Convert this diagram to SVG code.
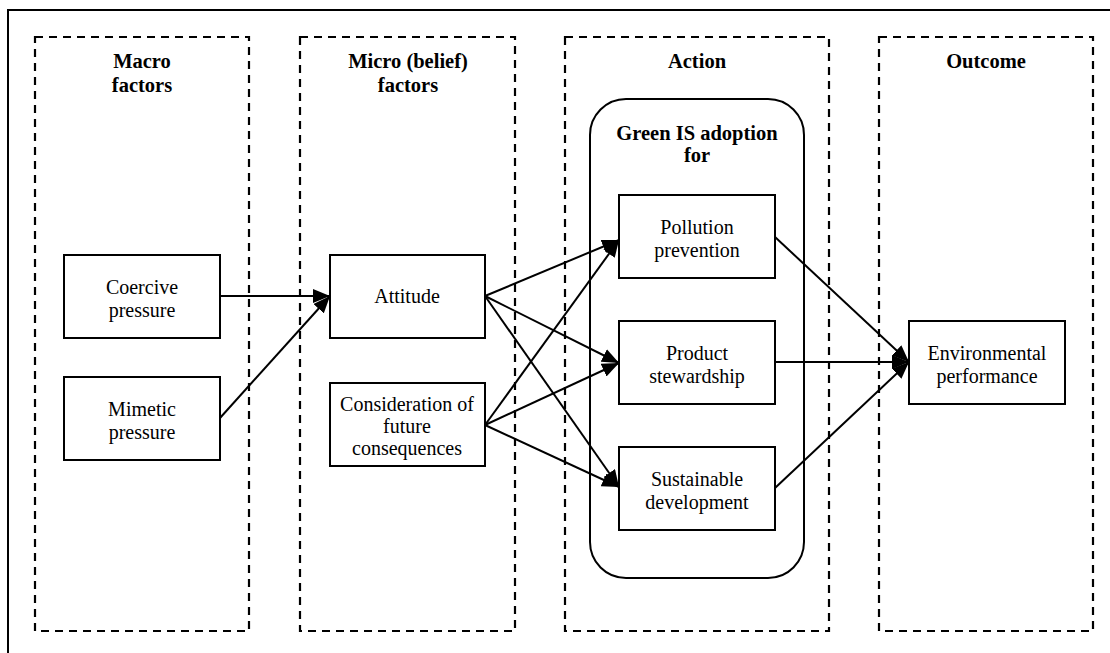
<svg xmlns="http://www.w3.org/2000/svg" width="1110" height="653" viewBox="0 0 1110 653">
<defs>
<style>
.col{fill:none;stroke:#000;stroke-width:2.2;stroke-dasharray:8,6}
.box{fill:#fff;stroke:#000;stroke-width:2}
.hd{font-family:"Liberation Serif",serif;font-weight:bold;font-size:20.5px;text-anchor:middle;fill:#000}
.tx{font-family:"Liberation Serif",serif;font-size:20px;text-anchor:middle;fill:#000}
.ed{fill:none;stroke:#000;stroke-width:2;marker-end:url(#ah)}
</style>
<marker id="ah" markerUnits="userSpaceOnUse" markerWidth="18" markerHeight="14" refX="17" refY="7" orient="auto">
<path d="M0,0 L17,7 L0,14 Z" fill="#000"/>
</marker>
</defs>
<path d="M8,653 V10 H1110" fill="none" stroke="#000" stroke-width="2"/>

<g id="col-macro">
<rect class="col" x="35" y="37" width="214" height="594"/>
<text class="hd" x="142" y="68">Macro</text>
<text class="hd" x="142" y="92">factors</text>
</g>
<g id="col-micro">
<rect class="col" x="300" y="37" width="215" height="594"/>
<text class="hd" x="408" y="68">Micro (belief)</text>
<text class="hd" x="408" y="92">factors</text>
</g>
<g id="col-action">
<rect class="col" x="565" y="37" width="264" height="594"/>
<text class="hd" x="697" y="68">Action</text>
</g>
<g id="col-outcome">
<rect class="col" x="879" y="37" width="214" height="594"/>
<text class="hd" x="986" y="68">Outcome</text>
</g>

<g id="green-is">
<rect x="590" y="99" width="214" height="479" rx="36" ry="36" fill="none" stroke="#000" stroke-width="2"/>
<text class="hd" x="697" y="140">Green IS adoption</text>
<text class="hd" x="697" y="162">for</text>
</g>

<g id="coercive">
<rect class="box" x="64" y="255" width="156" height="83"/>
<text class="tx" x="142" y="294">Coercive</text>
<text class="tx" x="142" y="317">pressure</text>
</g>
<g id="mimetic">
<rect class="box" x="64" y="377" width="156" height="83"/>
<text class="tx" x="142" y="416">Mimetic</text>
<text class="tx" x="142" y="439">pressure</text>
</g>
<g id="attitude">
<rect class="box" x="330" y="255" width="155" height="83"/>
<text class="tx" x="407" y="303">Attitude</text>
</g>
<g id="consideration">
<rect class="box" x="330" y="383" width="155" height="83"/>
<text class="tx" x="407" y="411">Consideration of</text>
<text class="tx" x="407" y="433">future</text>
<text class="tx" x="407" y="455">consequences</text>
</g>
<g id="pollution">
<rect class="box" x="619" y="195" width="156" height="83"/>
<text class="tx" x="697" y="234">Pollution</text>
<text class="tx" x="697" y="257">prevention</text>
</g>
<g id="product">
<rect class="box" x="619" y="321" width="156" height="83"/>
<text class="tx" x="697" y="360">Product</text>
<text class="tx" x="697" y="383">stewardship</text>
</g>
<g id="sustainable">
<rect class="box" x="619" y="447" width="156" height="83"/>
<text class="tx" x="697" y="486">Sustainable</text>
<text class="tx" x="697" y="509">development</text>
</g>
<g id="environmental">
<rect class="box" x="909" y="321" width="156" height="83"/>
<text class="tx" x="987" y="360">Environmental</text>
<text class="tx" x="987" y="383">performance</text>
</g>

<g id="connectors">
<line class="ed" x1="220" y1="296" x2="330" y2="296"/>
<line class="ed" x1="220" y1="418" x2="330" y2="296"/>
<line class="ed" x1="485" y1="296" x2="619" y2="240"/>
<line class="ed" x1="485" y1="296" x2="619" y2="363"/>
<line class="ed" x1="485" y1="296" x2="619" y2="487"/>
<line class="ed" x1="485" y1="425" x2="619" y2="240"/>
<line class="ed" x1="485" y1="425" x2="619" y2="363"/>
<line class="ed" x1="485" y1="425" x2="619" y2="487"/>
<line class="ed" x1="775" y1="237" x2="909" y2="362"/>
<line class="ed" x1="775" y1="362" x2="909" y2="362"/>
<line class="ed" x1="775" y1="488" x2="909" y2="362"/>
</g>
</svg>
